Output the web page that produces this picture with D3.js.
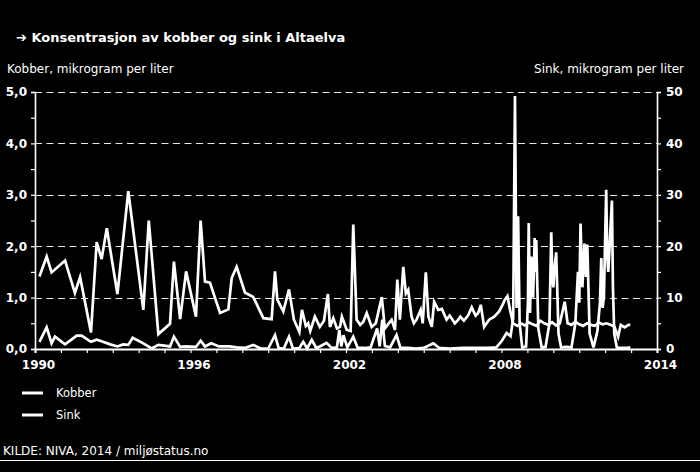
<!DOCTYPE html>
<html><head><meta charset="utf-8">
<script src="https://cdn.jsdelivr.net/npm/d3@7"></script>
<style>
html,body{margin:0;padding:0;background:#000;}
svg{display:block;}
text{font-family:"DejaVu Sans",Verdana,sans-serif;fill:#fff;}
</style></head><body>
<script>
// ---- data ----
const title = "➔ Konsentrasjon av kobber og sink i Altaelva";
const leftAxisTitle = "Kobber, mikrogram per liter";
const rightAxisTitle = "Sink, mikrogram per liter";
const sourceText = "KILDE: NIVA, 2014 / miljøstatus.no";
const seriesNames = ["Kobber", "Sink"];
const leftTicks = [0, 1, 2, 3, 4, 5];
const leftTickLabels = ["0,0", "1,0", "2,0", "3,0", "4,0", "5,0"];
const rightTicks = [0, 10, 20, 30, 40, 50];
const yearLabels = [1990, 1996, 2002, 2008, 2014];

// Kobber (left axis), decimal year
const kobberDates = [1990.17,1990.45,1990.64,1991.16,1991.54,1991.74,1992.16,1992.38,1992.57,1992.77,1993.18,1993.60,1994.18,1994.39,1994.76,1995.21,1995.36,1995.60,1995.83,1996.21,1996.39,1996.56,1996.75,1997.14,1997.46,1997.59,1997.78,1998.10,1998.42,1998.81,1999.13,1999.26,1999.35,1999.58,1999.80,1999.99,2000.20,2000.30,2000.45,2000.54,2000.62,2000.80,2000.99,2001.15,2001.30,2001.38,2001.51,2001.65,2001.77,2001.84,2002.03,2002.18,2002.28,2002.41,2002.55,2002.67,2002.80,2002.99,2003.15,2003.38,2003.50,2003.62,2003.76,2003.89,2003.98,2004.08,2004.21,2004.31,2004.40,2004.53,2004.62,2004.72,2004.88,2004.96,2005.08,2005.18,2005.31,2005.40,2005.56,2005.70,2005.88,2006.00,2006.20,2006.30,2006.41,2006.55,2006.72,2006.85,2007.00,2007.10,2007.20,2007.33,2007.52,2007.72,2007.91,2008.04,2008.13,2008.23,2008.33,2008.45,2008.62,2008.75,2008.90,2009.05,2009.20,2009.35,2009.50,2009.65,2009.80,2009.95,2010.10,2010.25,2010.44,2010.55,2010.70,2010.85,2011.00,2011.15,2011.30,2011.45,2011.60,2011.75,2011.90,2012.05,2012.20,2012.35,2012.50,2012.60,2012.75,2012.90,2012.97];
const kobberValues = [1.41,1.80,1.49,1.72,1.09,1.40,0.32,2.08,1.75,2.35,1.07,3.07,0.76,2.50,0.29,0.49,1.70,0.58,1.51,0.63,2.50,1.31,1.29,0.70,0.77,1.38,1.60,1.10,1.01,0.60,0.58,1.51,0.96,0.73,1.16,0.57,0.33,0.76,0.45,0.50,0.35,0.63,0.43,0.55,1.07,0.43,0.60,0.40,0.43,0.63,0.37,0.35,2.42,0.57,0.47,0.53,0.70,0.43,0.50,1.01,0.40,0.48,0.57,0.37,1.35,0.57,1.60,1.08,1.15,0.63,0.50,0.57,0.76,0.50,1.49,0.63,0.43,0.92,0.76,0.78,0.57,0.65,0.50,0.55,0.63,0.55,0.66,0.81,0.65,0.70,0.86,0.43,0.57,0.63,0.73,0.86,0.96,1.03,0.76,0.50,0.45,0.50,0.46,0.52,0.48,0.45,0.55,0.50,0.47,0.52,0.46,0.50,0.92,0.50,0.47,0.53,0.48,0.45,0.50,0.47,0.45,0.52,0.48,0.50,0.47,0.44,0.24,0.47,0.42,0.47,0.47];

// Sink (right axis), decimal year
const sinkDates = [1990.17,1990.45,1990.64,1990.77,1991.16,1991.61,1991.80,1992.16,1992.38,1992.57,1992.90,1993.18,1993.40,1993.60,1993.77,1994.18,1994.50,1994.76,1995.21,1995.36,1995.60,1995.83,1996.21,1996.39,1996.56,1996.80,1997.10,1997.50,1997.80,1998.10,1998.42,1998.70,1999.00,1999.26,1999.40,1999.60,1999.80,1999.95,2000.20,2000.35,2000.50,2000.68,2000.85,2000.99,2001.25,2001.45,2001.65,2001.74,2001.82,2001.90,2002.05,2002.28,2002.45,2002.70,2002.95,2003.20,2003.30,2003.40,2003.50,2003.70,2003.95,2004.10,2004.40,2004.70,2005.00,2005.37,2005.60,2006.00,2006.50,2007.00,2007.50,2007.80,2008.00,2008.20,2008.35,2008.45,2008.52,2008.58,2008.64,2008.70,2008.80,2008.95,2009.02,2009.05,2009.10,2009.15,2009.19,2009.22,2009.28,2009.31,2009.34,2009.42,2009.55,2009.70,2009.85,2009.92,2009.96,2010.00,2010.05,2010.11,2010.20,2010.30,2010.50,2010.70,2010.85,2010.95,2011.00,2011.05,2011.12,2011.17,2011.20,2011.26,2011.31,2011.40,2011.55,2011.70,2011.80,2011.85,2011.90,2011.95,2012.04,2012.08,2012.12,2012.19,2012.26,2012.30,2012.35,2012.45,2012.60,2012.80,2012.97];
const sinkValues = [1.4,4.2,1.1,2.4,0.9,2.6,2.6,1.4,1.8,1.5,0.9,0.5,0.9,0.8,2.2,1.1,0.1,0.8,0.5,2.4,0.4,0.5,0.4,1.6,0.5,1.1,0.5,0.5,0.3,0.2,0.8,0.1,0.1,2.7,0.2,0.1,2.4,0.1,0.2,1.4,0.1,1.8,0.2,0.5,1.2,0.2,0.3,3.7,0.5,2.7,0.3,2.4,0.2,0.2,0.3,4.0,0.5,5.7,0.6,0.3,2.7,0.2,0.2,0.1,0.2,1.1,0.2,0.1,0.2,0.2,0.2,0.3,1.5,3.1,2.5,6.0,49.2,8.0,25.8,5.0,0.3,0.5,9.0,24.5,7.0,18.0,13.0,10.0,21.6,15.0,21.2,4.0,0.3,0.4,5.0,22.7,14.0,12.0,16.0,18.8,3.0,0.3,0.4,0.3,5.0,15.0,9.0,24.4,12.0,17.0,20.5,14.0,20.3,3.0,0.3,3.5,9.0,17.7,8.0,10.0,31.0,18.0,15.0,22.0,28.9,12.0,3.0,0.3,0.2,0.2,0.3];

// ---- chart ----
const W = 700, H = 472;
const svg = d3.select("body").append("svg").attr("width", W).attr("height", H);
svg.append("rect").attr("width", W).attr("height", H).attr("fill", "#000");

const pL = 35, pR = 657, pT = 92, pB = 349;
const x = d3.scaleLinear().domain([1990, 2014]).range([pL, pR]);
const yL = d3.scaleLinear().domain([0, 5]).range([pB, pT]);
const yR = d3.scaleLinear().domain([0, 50]).range([pB, pT]);

// titles
svg.append("text").attr("x", 16).attr("y", 42).attr("font-size", 13).attr("font-weight", "bold").text(title);
svg.append("text").attr("x", 7).attr("y", 73).attr("font-size", 12).text(leftAxisTitle);
svg.append("text").attr("x", 684).attr("y", 73).attr("font-size", 12).attr("text-anchor", "end").text(rightAxisTitle);

// gridlines
svg.append("g").selectAll("line").data(leftTicks.filter(d => d > 0)).join("line")
  .attr("x1", pL).attr("x2", pR)
  .attr("y1", d => Math.round(yL(d)) + 0.5).attr("y2", d => Math.round(yL(d)) + 0.5)
  .attr("stroke", "#e8e8e8").attr("stroke-width", 1.2).attr("stroke-dasharray", "7,4.5");

// left axis
const gL = svg.append("g").attr("transform", `translate(${pL},0)`)
  .call(d3.axisLeft(yL).tickValues(d3.range(0, 5.01, 0.5)).tickSize(4)
    .tickFormat(d => Number.isInteger(d) ? leftTickLabels[leftTicks.indexOf(d)] : ""));
gL.selectAll("text").attr("font-size", 12).attr("font-weight", "bold").attr("x", -8);
// right axis
const gR = svg.append("g").attr("transform", `translate(${pR},0)`)
  .call(d3.axisRight(yR).tickValues(d3.range(0, 50.1, 5)).tickSize(4)
    .tickFormat(d => rightTicks.includes(d) ? String(d) : ""));
gR.selectAll("text").attr("font-size", 12).attr("font-weight", "bold").attr("x", 9);
// bottom axis
const gB = svg.append("g").attr("transform", `translate(0,${pB})`)
  .call(d3.axisBottom(x).tickValues(d3.range(1990, 2014.01, 1)).tickSize(4)
    .tickFormat(d => yearLabels.includes(d) ? String(d) : ""));
gB.selectAll("text").attr("font-size", 12).attr("font-weight", "bold").attr("dx", 3).attr("y", 11);
[gL, gR, gB].forEach(g => {
  g.selectAll("path").attr("stroke", "#fff").attr("stroke-width", 1.6).attr("fill", "none");
  g.selectAll("line").attr("stroke", "#fff").attr("stroke-width", 1.2);
  g.selectAll("text").attr("fill", "#fff").style("font-family", "DejaVu Sans, Verdana, sans-serif");
});
gB.select("path").attr("stroke-width", 2);

// series
const kobber = kobberDates.map((d, i) => [d, kobberValues[i]]);
const sink = sinkDates.map((d, i) => [d, sinkValues[i]]);
const lineL = d3.line().x(d => x(d[0])).y(d => yL(d[1]));
const lineR = d3.line().x(d => x(d[0])).y(d => yR(d[1]));
svg.append("path").datum(sink).attr("d", lineR).attr("fill", "none").attr("stroke", "#fff").attr("stroke-width", 2.7).attr("stroke-linejoin", "miter");
svg.append("path").datum(kobber).attr("d", lineL).attr("fill", "none").attr("stroke", "#fff").attr("stroke-width", 2.7).attr("stroke-linejoin", "miter");

// legend
const lg = svg.append("g");
seriesNames.forEach((name, i) => {
  const yy = 393 + i * 22;
  lg.append("line").attr("x1", 22).attr("x2", 43).attr("y1", yy).attr("y2", yy).attr("stroke", "#fff").attr("stroke-width", 3);
  lg.append("text").attr("x", 56).attr("y", yy + 4).attr("font-size", 11.5).text(name);
});

// source
svg.append("text").attr("x", 3).attr("y", 455).attr("font-size", 12).text(sourceText);
svg.append("line").attr("x1", 0).attr("x2", W).attr("y1", 460.5).attr("y2", 460.5).attr("stroke", "#fff").attr("stroke-width", 1);
</script>
</body></html>
